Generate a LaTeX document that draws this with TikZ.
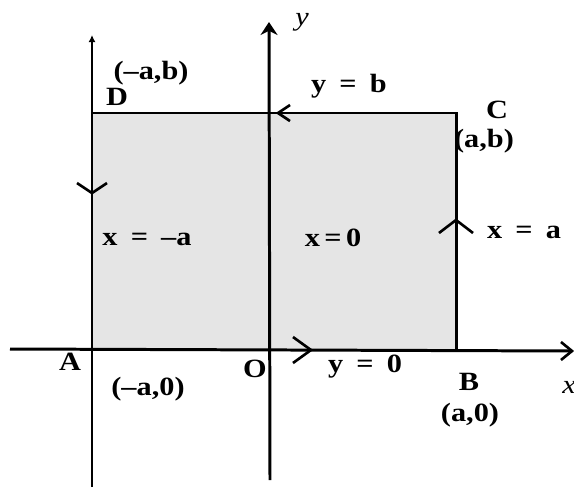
\documentclass[tikz,border=0pt]{standalone}
\usepackage{fontspec}
\setmainfont{Liberation Serif}
\newfontfamily\labelfont[FakeStretch=1.15,Ligatures=TeX]{Liberation Serif}
\usetikzlibrary{arrows.meta}

\begin{document}
\begin{tikzpicture}[x=0.02cm,y=-0.02cm,
        axis/.style={line width=1.7pt},
        chev/.style={line width=1.5pt, line join=miter},
        lbl/.style={font=\labelfont\bfseries\fontsize{15}{15}\selectfont, inner sep=0pt}]
    \useasboundingbox (0,0) rectangle (574,487);
    % Corners of the region and the origin.
        \coordinate (A) at (92,350);
        \coordinate (B) at (456,350);
        \coordinate (C) at (456,113);
        \coordinate (D) at (92,113);
        \coordinate (O) at (270,350);
        \coordinate (xs) at (10,349);
        \coordinate (xe) at (572,351);
        \coordinate (ys) at (270,480);
        \coordinate (ye) at (269,22);
        \coordinate (ls) at (92,487);
        \coordinate (le) at (92,35);
    % This shades the region.
        \fill[black!10] (A) rectangle (C);
    % Axes and the sides.
        \draw[axis] (xs) -- (xe);
        \draw[axis, -{Stealth[length=0.26cm,width=0.34cm]}] (ys) -- (ye);
        \draw[axis, -{Latex[length=0.14cm,width=0.14cm]}] (ls) -- (le);
        \draw[axis] (D) -- (C) -- (B);
    % Open arrow heads along the boundary.
        \coordinate (tb) at (278,113);
        \coordinate (ta) at (456,220);
        \coordinate (tma) at (92,193);
        \coordinate (tz) at (311,350);
        \draw[chev] ([shift={(12,-8)}]tb) -- (tb) -- ([shift={(12,8)}]tb);
        \draw[chev] ([shift={(-17,13)}]ta) -- (ta) -- ([shift={(17,13)}]ta);
        \draw[chev] ([shift={(-15,-10)}]tma) -- (tma) -- ([shift={(15,-10)}]tma);
        \draw[chev] ([shift={(-18,-13)}]tz) -- (tz) -- ([shift={(-18,13)}]tz);
        \draw[chev] ([shift={(-11,-9)}]xe) -- (xe) -- ([shift={(-11,9)}]xe);
    % Below nodes are the labels.
        \node[lbl] (pD) at (151,73) {(--a,b)};
        \node[lbl] (nD) at (117,97) {D};
        \node[lbl] (lb) at (349,86) {y\enspace=\enspace b};
        \node[lbl] (nC) at (497,110) {C};
        \node[lbl] (pC) at (484,141) {(a,b)};
        \node[lbl] (lma) at (147,239) {x\enspace=\enspace--a};
        \node[lbl] (lz) at (333,238) {x\,=\,0};
        \node[lbl] (la) at (524,232) {x\enspace=\enspace a};
        \node[lbl] (nA) at (70,362) {A};
        \node[lbl] (pA) at (148,389) {(--a,0)};
        \node[lbl] (nO) at (255,369) {O};
        \node[lbl] (l0) at (365,367) {y\enspace=\enspace 0};
        \node[lbl] (nB) at (469,382) {B};
        \node[lbl] (pB) at (470,415) {(a,0)};
        \node[lbl] (nx) at (569,387) {\mdseries\itshape x};
        \node[lbl] (ny) at (302,22) {\mdseries\itshape y};
\end{tikzpicture}
\end{document}
